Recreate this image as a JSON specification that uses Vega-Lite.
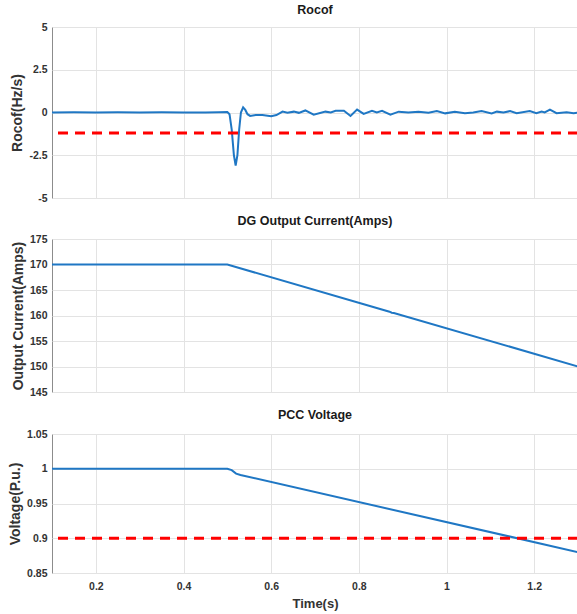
{
  "$schema": "https://vega.github.io/schema/vega-lite/v6.json",
  "padding": {"left": 8, "top": 3, "right": 0, "bottom": 0},
  "spacing": 10,
  "background": "white",
  "config": {
    "font": "Liberation Sans",
    "view": {"stroke": "#8c8c8c", "strokeWidth": 1},
    "title": {"fontSize": 12.5, "fontWeight": "bold", "font": "Liberation Sans", "color": "#1a1a1a", "offset": 6},
    "axis": {
      "labelFont": "Liberation Sans", "labelFontWeight": "bold", "labelFontSize": 10.5, "labelColor": "#333333",
      "titleFont": "Liberation Sans", "titleFontWeight": "bold", "titleFontSize": 14, "titleColor": "#333333",
      "gridColor": "#e3e3e3", "gridWidth": 1, "domain": false, "ticks": false, "labelPadding": 5, "labelOverlap": false
    },
    "axisY": {"titlePadding": 4}
  },
  "datasets": {
    "rocof": [
      {"t": 0.1, "v": 0.0}, {"t": 0.15, "v": 0.01}, {"t": 0.2, "v": 0.0}, {"t": 0.25, "v": 0.01}, {"t": 0.3, "v": 0.0},
      {"t": 0.35, "v": 0.01}, {"t": 0.4, "v": 0.0}, {"t": 0.45, "v": 0.0}, {"t": 0.48, "v": 0.02}, {"t": 0.5, "v": 0.03},
      {"t": 0.505, "v": -0.1}, {"t": 0.51, "v": -1.0}, {"t": 0.515, "v": -2.5}, {"t": 0.519, "v": -3.1}, {"t": 0.523, "v": -2.5},
      {"t": 0.527, "v": -1.0}, {"t": 0.531, "v": 0.0}, {"t": 0.536, "v": 0.3}, {"t": 0.541, "v": 0.15}, {"t": 0.546, "v": -0.1},
      {"t": 0.552, "v": -0.2}, {"t": 0.565, "v": -0.15}, {"t": 0.58, "v": -0.15}, {"t": 0.6, "v": -0.22}, {"t": 0.612, "v": -0.15},
      {"t": 0.626, "v": 0.05}, {"t": 0.637, "v": -0.02}, {"t": 0.652, "v": 0.05}, {"t": 0.663, "v": -0.02}, {"t": 0.678, "v": 0.12},
      {"t": 0.697, "v": -0.13}, {"t": 0.724, "v": 0.05}, {"t": 0.736, "v": 0.0}, {"t": 0.747, "v": 0.1}, {"t": 0.766, "v": 0.1},
      {"t": 0.781, "v": -0.2}, {"t": 0.796, "v": 0.17}, {"t": 0.811, "v": -0.08}, {"t": 0.83, "v": 0.1}, {"t": 0.841, "v": 0.0},
      {"t": 0.853, "v": 0.1}, {"t": 0.872, "v": -0.13}, {"t": 0.891, "v": 0.05}, {"t": 0.913, "v": 0.0}, {"t": 0.936, "v": 0.05},
      {"t": 0.959, "v": -0.02}, {"t": 0.978, "v": 0.08}, {"t": 0.997, "v": -0.05}, {"t": 1.019, "v": 0.05}, {"t": 1.042, "v": -0.05},
      {"t": 1.061, "v": 0.0}, {"t": 1.08, "v": 0.08}, {"t": 1.103, "v": -0.05}, {"t": 1.115, "v": 0.05}, {"t": 1.13, "v": 0.0},
      {"t": 1.145, "v": 0.08}, {"t": 1.16, "v": -0.04}, {"t": 1.19, "v": 0.08}, {"t": 1.205, "v": -0.04}, {"t": 1.217, "v": 0.05},
      {"t": 1.224, "v": 0.0}, {"t": 1.236, "v": 0.17}, {"t": 1.251, "v": -0.04}, {"t": 1.274, "v": 0.02}, {"t": 1.29, "v": -0.04},
      {"t": 1.3, "v": 0.0}
    ],
    "current": [
      {"t": 0.1, "v": 170}, {"t": 0.5, "v": 170}, {"t": 0.87, "v": 160.75}, {"t": 0.875, "v": 160.55}, {"t": 0.88, "v": 160.5}, {"t": 1.3, "v": 150}
    ],
    "voltage": [
      {"t": 0.1, "v": 1.0}, {"t": 0.5, "v": 1.0}, {"t": 0.51, "v": 0.998}, {"t": 0.52, "v": 0.993}, {"t": 0.53, "v": 0.991}, {"t": 1.3, "v": 0.88}
    ],
    "rocofLimit": [{"limit": -1.2}],
    "voltageLimit": [{"limit": 0.9}]
  },
  "vconcat": [
    {
      "title": "Rocof",
      "width": 526, "height": 171,
      "layer": [
        {
          "data": {"name": "rocof"},
          "mark": {"type": "line", "color": "#1f77c4", "strokeWidth": 2, "clip": true},
          "encoding": {
            "x": {"field": "t", "type": "quantitative", "scale": {"domain": [0.1, 1.3], "nice": false, "zero": false},
                  "axis": {"values": [0.2, 0.4, 0.6, 0.8, 1, 1.2], "tickCount": 20, "labels": false, "title": null}},
            "y": {"field": "v", "type": "quantitative", "scale": {"domain": [-5, 5], "nice": false},
                  "axis": {"values": [-5, -2.5, 0, 2.5, 5], "tickCount": 20, "labelExpr": "'' + datum.value", "title": "Rocof(Hz/s)"}}
          }
        },
        {
          "data": {"name": "rocofLimit"},
          "mark": {"type": "rule", "color": "#ff0000", "strokeWidth": 2.8, "strokeDash": [10, 7]},
          "encoding": {"y": {"field": "limit", "type": "quantitative",
                  "axis": {"values": [-5, -2.5, 0, 2.5, 5], "tickCount": 20, "labelExpr": "'' + datum.value", "title": "Rocof(Hz/s)"}}}
        }
      ]
    },
    {
      "title": {"text": "DG Output Current(Amps)", "offset": 7},
      "width": 526, "height": 153,
      "data": {"name": "current"},
      "mark": {"type": "line", "color": "#1f77c4", "strokeWidth": 2, "clip": true},
      "encoding": {
        "x": {"field": "t", "type": "quantitative", "scale": {"domain": [0.1, 1.3], "nice": false, "zero": false},
              "axis": {"values": [0.2, 0.4, 0.6, 0.8, 1, 1.2], "tickCount": 20, "labels": false, "title": null}},
        "y": {"field": "v", "type": "quantitative", "scale": {"domain": [145, 175], "nice": false, "zero": false},
              "axis": {"values": [145, 150, 155, 160, 165, 170, 175], "tickCount": 20, "labelExpr": "'' + datum.value", "title": "Output Current(Amps)"}}
      }
    },
    {
      "title": {"text": "PCC Voltage", "offset": 8},
      "width": 526, "height": 139,
      "layer": [
        {
          "data": {"name": "voltage"},
          "mark": {"type": "line", "color": "#1f77c4", "strokeWidth": 2, "clip": true},
          "encoding": {
            "x": {"field": "t", "type": "quantitative", "scale": {"domain": [0.1, 1.3], "nice": false, "zero": false},
                  "axis": {"values": [0.2, 0.4, 0.6, 0.8, 1, 1.2], "tickCount": 20, "labelExpr": "'' + datum.value", "labelPadding": 8, "title": "Time(s)", "titleFontSize": 13, "titlePadding": 6}},
            "y": {"field": "v", "type": "quantitative", "scale": {"domain": [0.85, 1.05], "nice": false, "zero": false},
                  "axis": {"values": [0.85, 0.9, 0.95, 1, 1.05], "tickCount": 20, "labelExpr": "'' + datum.value", "title": "Voltage(P.u.)"}}
          }
        },
        {
          "data": {"name": "voltageLimit"},
          "mark": {"type": "rule", "color": "#ff0000", "strokeWidth": 2.8, "strokeDash": [10, 7]},
          "encoding": {"y": {"field": "limit", "type": "quantitative",
                  "axis": {"values": [0.85, 0.9, 0.95, 1, 1.05], "tickCount": 20, "labelExpr": "'' + datum.value", "title": "Voltage(P.u.)"}}}
        }
      ]
    }
  ]
}
